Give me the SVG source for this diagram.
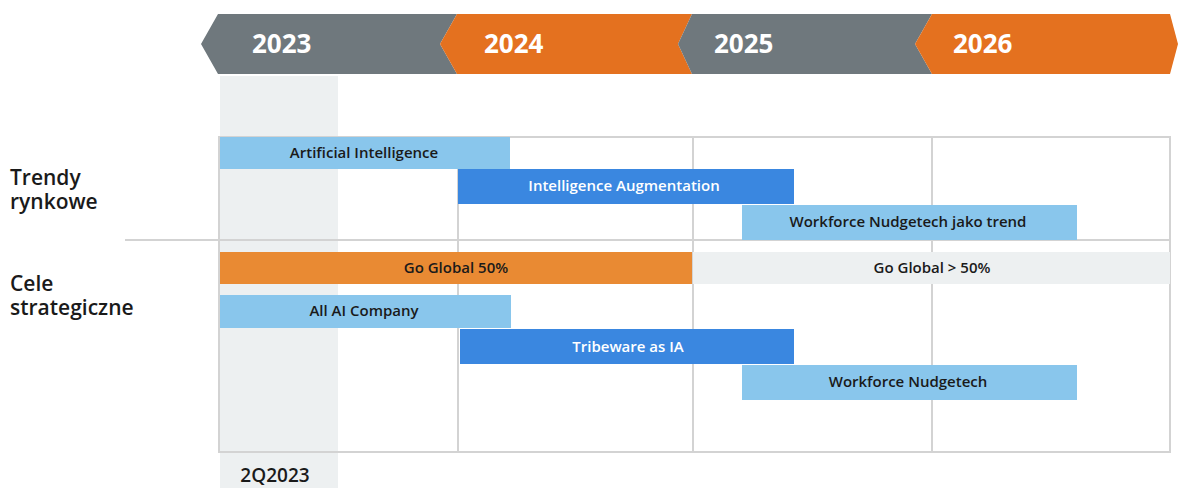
<svg xmlns="http://www.w3.org/2000/svg" width="1178" height="488" viewBox="0 0 1178 488">
<style>
.bg{fill:#ffffff}
.shade{fill:#edf0f1}
.grid{stroke:#d3d3d3;stroke-width:2;fill:none}
.gray{fill:#6f787d}
.orange{fill:#e4711f}
.yr{font-family:"Open Sans","Liberation Sans",sans-serif;font-weight:700;font-size:26px;fill:#ffffff}
.lb{fill:#89c6ec}
.db{fill:#3a87e0}
.og{fill:#e98a33}
.gg{fill:#edf0f1}
.t{font-family:"Open Sans","Liberation Sans",sans-serif;font-weight:600;font-size:15px;text-anchor:middle;fill:#1a1a1a}
.tw{fill:#ffffff}
.side{font-family:"Open Sans","Liberation Sans",sans-serif;font-weight:600;font-size:21px;fill:#1a1a1a}
</style>
<rect class="bg" x="0" y="0" width="1178" height="488"/>
<rect class="shade" x="220" y="76" width="118" height="412"/>
<g id="header">
  <polygon class="gray" points="201,44 218,14 457,14 440,44 457,74 218,74"/>
  <polygon class="orange" points="440,44 457,14 692,14 678,44 692,74 457,74"/>
  <polygon class="gray" points="678,44 692,14 932,14 915,44 932,74 692,74"/>
  <polygon class="orange" points="915,44 932,14 1170,14 1178,44 1170,74 932,74"/>
  <text class="yr" x="252" y="53">2023</text>
  <text class="yr" x="484" y="53">2024</text>
  <text class="yr" x="714" y="53">2025</text>
  <text class="yr" x="953" y="53">2026</text>
</g>
<g id="grid">
  <rect class="grid" x="219" y="137" width="951" height="315"/>
  <line class="grid" x1="458" y1="137" x2="458" y2="452"/>
  <line class="grid" x1="693" y1="137" x2="693" y2="452"/>
  <line class="grid" x1="932" y1="137" x2="932" y2="452"/>
  <line class="grid" x1="125" y1="240" x2="1170" y2="240"/>
</g>
<g id="side-labels">
  <text class="side" x="10" y="185">Trendy<tspan x="10" dy="24">rynkowe</tspan></text>
  <text class="side" x="10" y="291">Cele<tspan x="10" dy="24">strategiczne</tspan></text>
</g>
<g id="bar-ai">
  <rect class="lb" x="220" y="137" width="290" height="32"/>
  <text class="t" x="364" y="158">Artificial Intelligence</text>
</g>
<g id="bar-ia">
  <rect class="db" x="458" y="169" width="336" height="35"/>
  <text class="t tw" x="624" y="191">Intelligence Augmentation</text>
</g>
<g id="bar-wnt">
  <rect class="lb" x="742" y="205" width="335" height="35"/>
  <text class="t" x="908" y="227">Workforce Nudgetech jako trend</text>
</g>
<g id="bar-gg50">
  <rect class="og" x="220" y="252" width="472" height="32"/>
  <text class="t" x="456" y="273">Go Global 50%</text>
</g>
<g id="bar-gg50plus">
  <rect class="gg" x="693" y="252" width="477" height="32"/>
  <text class="t" x="932" y="273">Go Global &gt; 50%</text>
</g>
<g id="bar-allai">
  <rect class="lb" x="220" y="295" width="291" height="33"/>
  <text class="t" x="364" y="316">All AI Company</text>
</g>
<g id="bar-tribeware">
  <rect class="db" x="460" y="329" width="334" height="35"/>
  <text class="t tw" x="628" y="352">Tribeware as IA</text>
</g>
<g id="bar-wn">
  <rect class="lb" x="742" y="365" width="335" height="35"/>
  <text class="t" x="908" y="387">Workforce Nudgetech</text>
</g>
<g id="quarter-label">
  <text class="t" x="275" y="482" style="font-size:19px">2Q2023</text>
</g>
</svg>
